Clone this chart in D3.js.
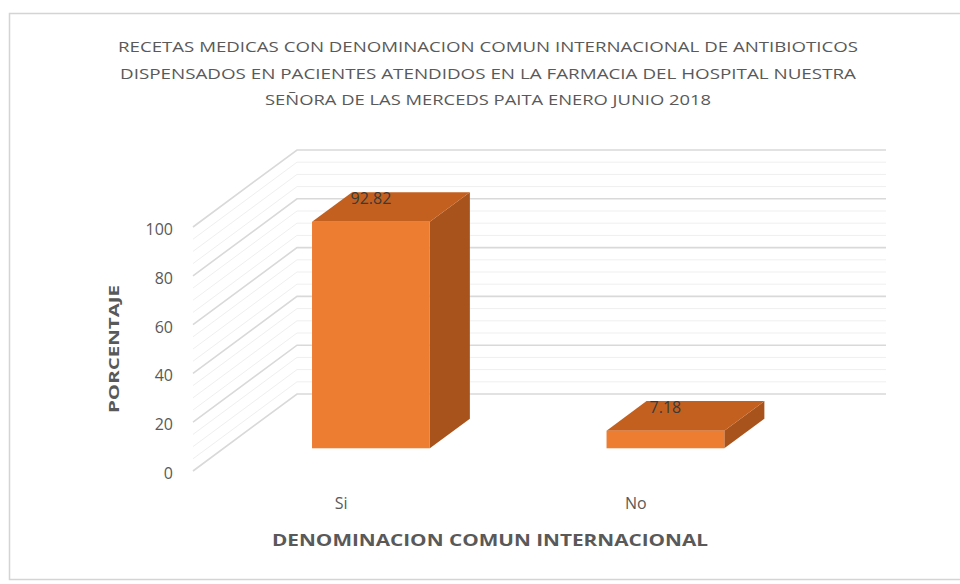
<!DOCTYPE html>
<html>
<head>
<meta charset="utf-8">
<script src="https://cdn.jsdelivr.net/npm/d3@7"></script>
<style>
  body { margin: 0; background: #fff; }
  svg { display: block; }
  text { font-family: "Open Sans", "Noto Sans", sans-serif; }
</style>
</head>
<body>
<div id="chart"></div>
<script>
// chart data
const categories = ["Si", "No"];
const values = [92.82, 7.18];
const yTicks = [0, 20, 40, 60, 80, 100];
const minorTicks = [5, 10, 15, 25, 30, 35, 45, 50, 55, 65, 70, 75, 85, 90, 95];
const titleLines = [
    "RECETAS MEDICAS CON DENOMINACION COMUN INTERNACIONAL DE ANTIBIOTICOS",
    "DISPENSADOS EN PACIENTES ATENDIDOS EN LA FARMACIA DEL HOSPITAL NUESTRA",
    "SEÑORA DE LAS MERCEDS PAITA ENERO JUNIO 2018"
];
const xTitle = "DENOMINACION COMUN INTERNACIONAL";
const yTitle = "PORCENTAJE";

const width = 960, height = 584;
// oblique depth offset (full depth of the plot box)
const depth = {dx: 104, dy: -77};
const barZ = [0.295, 0.68];

let svg = d3.select("#chart").append("svg")
    .attr("width", width)
    .attr("height", height);

// outer frame
svg.append("rect").attr("x", 9.5).attr("y", 13.5).attr("width", 960).attr("height", 566)
    .attr("fill", "none").attr("stroke", "#d4d4d4").attr("stroke-width", 1.5);

// scales in the front plane
let xScale = d3.scaleBand()
    .domain(categories)
    .range([193, 782])
    .paddingInner(0.6)
    .paddingOuter(0.3);
let yScale = d3.scaleLinear()
    .domain([0, 100])
    .range([471, 227]);

// project (x, value, z) to screen
function proj(x, v, z) {
    return [x + z * depth.dx, yScale(v) + z * depth.dy];
}

let x0 = xScale.range()[0], x1 = xScale.range()[1];

// side wall + back wall gridlines
let grid = svg.append("g").attr("id", "grid");
function gridLine(v, color, w) {
    let a = proj(x0, v, 0), b = proj(x0, v, 1), c = proj(x1, v, 1);
    grid.append("polyline")
        .attr("points", [a, b, c].map(p => p.join(",")).join(" "))
        .attr("fill", "none")
        .attr("stroke", color)
        .attr("stroke-width", w);
}
minorTicks.forEach(v => gridLine(v, "#efefef", 1));
yTicks.forEach(v => gridLine(v, "#d9d9d9", 1.6));

// 3d bars
let bars = svg.append("g").attr("id", "bars");
categories.forEach((cat, i) => {
    let bx0 = xScale(cat), bx1 = bx0 + xScale.bandwidth();
    let v = values[i];
    let zf = barZ[0], zb = barZ[1];
    let pts = arr => arr.map(p => p.join(",")).join(" ");
    // side face
    bars.append("polygon")
        .attr("points", pts([proj(bx1, 0, zf), proj(bx1, v, zf), proj(bx1, v, zb), proj(bx1, 0, zb)]))
        .attr("fill", "#a8531b");
    // top face
    bars.append("polygon")
        .attr("points", pts([proj(bx0, v, zf), proj(bx1, v, zf), proj(bx1, v, zb), proj(bx0, v, zb)]))
        .attr("fill", "#c4601f");
    // front face
    let f0 = proj(bx0, v, zf), f1 = proj(bx1, 0, zf);
    bars.append("rect")
        .attr("x", f0[0]).attr("y", f0[1])
        .attr("width", f1[0] - f0[0]).attr("height", f1[1] - f0[1])
        .attr("fill", "#ed7d31");
    // value label
    let lx = (bx0 + bx1) / 2 + zf * depth.dx;
    let ly = proj(bx0, v, zb)[1] + 12;
    bars.append("text")
        .attr("x", lx).attr("y", ly)
        .attr("text-anchor", "middle")
        .style("font-size", "16px")
        .attr("fill", "#3a3a3a")
        .text(v.toFixed(2));
});

// y axis tick labels
svg.append("g").attr("id", "yaxis").selectAll("text")
    .data(yTicks).enter().append("text")
    .attr("x", 173)
    .attr("y", d => yScale(d) + 8)
    .attr("text-anchor", "end")
    .style("font-size", "16px")
    .attr("fill", "#595959")
    .text(d => d);

// category labels
svg.append("g").attr("id", "xaxis").selectAll("text")
    .data(categories).enter().append("text")
    .attr("x", d => xScale(d) + xScale.bandwidth() / 2 + 1)
    .attr("y", 509)
    .attr("text-anchor", "middle")
    .style("font-size", "16px")
    .attr("fill", "#595959")
    .text(d => d);

// axis titles
svg.append("text")
    .attr("x", 490).attr("y", 546)
    .attr("text-anchor", "middle")
    .attr("textLength", 436).attr("lengthAdjust", "spacingAndGlyphs")
    .style("font-size", "16px").style("font-weight", "bold")
    .attr("fill", "#595959")
    .text(xTitle);
svg.append("text")
    .attr("transform", "translate(119,349) rotate(-90)")
    .attr("text-anchor", "middle")
    .attr("textLength", 128).attr("lengthAdjust", "spacingAndGlyphs")
    .style("font-size", "15px").style("font-weight", "bold")
    .attr("fill", "#595959")
    .text(yTitle);

// chart title
let titleLen = [740, 736, 446];
svg.append("g").attr("id", "title").selectAll("text")
    .data(titleLines).enter().append("text")
    .attr("x", 488)
    .attr("y", (d, i) => 52 + i * 26.5)
    .attr("text-anchor", "middle")
    .attr("textLength", (d, i) => titleLen[i]).attr("lengthAdjust", "spacingAndGlyphs")
    .style("font-size", "15px")
    .attr("fill", "#595959")
    .text(d => d);
</script>
</body>
</html>
